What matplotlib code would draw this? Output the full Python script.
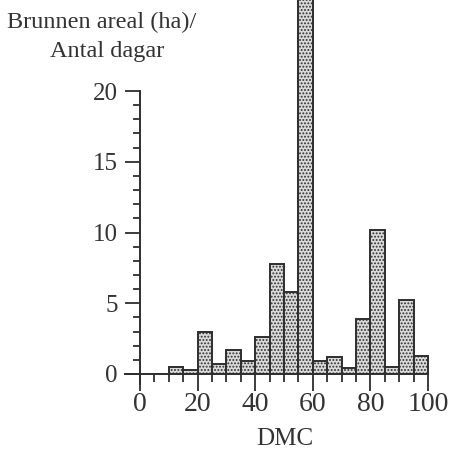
import matplotlib
matplotlib.use("Agg")
import matplotlib.pyplot as plt
from matplotlib.ticker import FixedLocator, NullFormatter

plt.rcParams["font.family"] = ["Liberation Serif", "DejaVu Serif"]
plt.rcParams["hatch.color"] = "#3a3a3a"
plt.rcParams["hatch.linewidth"] = 0.9

# DMC classes (left edges, width 5) and burnt area / number of days
bin_left = [0, 5, 10, 15, 20, 25, 30, 35, 40, 45, 50, 55, 60, 65, 70, 75, 80, 85, 90, 95]
values = [0, 0, 0.5, 0.3, 3.0, 0.7, 1.7, 0.9, 2.6, 7.8, 5.8, 30.0, 0.9, 1.2, 0.4, 3.9, 10.2, 0.5, 5.2, 1.3]
bin_width = 5

x_ticks = [0, 20, 40, 60, 80, 100]
y_ticks = [0, 5, 10, 15, 20]

W, H = 451, 450
fig = plt.figure(figsize=(W / 100, H / 100), dpi=100)

# axes geometry in pixels
px_x0, px_per_x = 140, 2.88
px_y0, px_per_y = 374, 14.15
ax_left_px, ax_right_px = 118, 440
ax = fig.add_axes([ax_left_px / W, (H - px_y0) / H,
                   (ax_right_px - ax_left_px) / W, px_y0 / H])
ax.set_xlim((ax_left_px - px_x0) / px_per_x, (ax_right_px - px_x0) / px_per_x)
ax.set_ylim(0, px_y0 / px_per_y)

ax.bar(bin_left, values, width=bin_width, align="edge",
       facecolor="#dadada", edgecolor="#2e2e2e", linewidth=1.4,
       hatch=".....", zorder=2)

for s in ("top", "right"):
    ax.spines[s].set_visible(False)
ax.spines["left"].set_position(("data", 0))
ax.spines["left"].set_bounds(-0.7, 20)
ax.spines["bottom"].set_bounds(-5.2, 100)
for s in ("left", "bottom"):
    ax.spines[s].set_linewidth(1.4)
    ax.spines[s].set_color("#2e2e2e")

ax.set_xticks(x_ticks)
ax.xaxis.set_minor_locator(FixedLocator(list(range(0, 101, 5))))
ax.set_yticks(y_ticks)
ax.yaxis.set_minor_locator(FixedLocator(list(range(0, 21))))
ax.yaxis.set_minor_formatter(NullFormatter())
ax.xaxis.set_minor_formatter(NullFormatter())

ax.tick_params(axis="both", which="both", direction="out", colors="#2e2e2e",
               width=1.3, labelcolor="#333333")
ax.tick_params(axis="x", which="major", length=12, pad=1, labelsize=20)
ax.tick_params(axis="x", which="minor", length=6)
ax.tick_params(axis="y", which="major", length=11, pad=5, labelsize=18)
ax.tick_params(axis="y", which="minor", length=5)

fig.text(285 / W, 1 - 439 / H, "DMC", fontsize=18, color="#333333",
         ha="center", va="center")
fig.text(102 / W, 1 - 22 / H, "Brunnen areal (ha)/", fontsize=17.5,
         color="#333333", ha="center", va="center")
fig.text(107 / W, 1 - 52 / H, "Antal dagar", fontsize=17.5,
         color="#333333", ha="center", va="center")

fig.savefig("out.png", dpi=100)
